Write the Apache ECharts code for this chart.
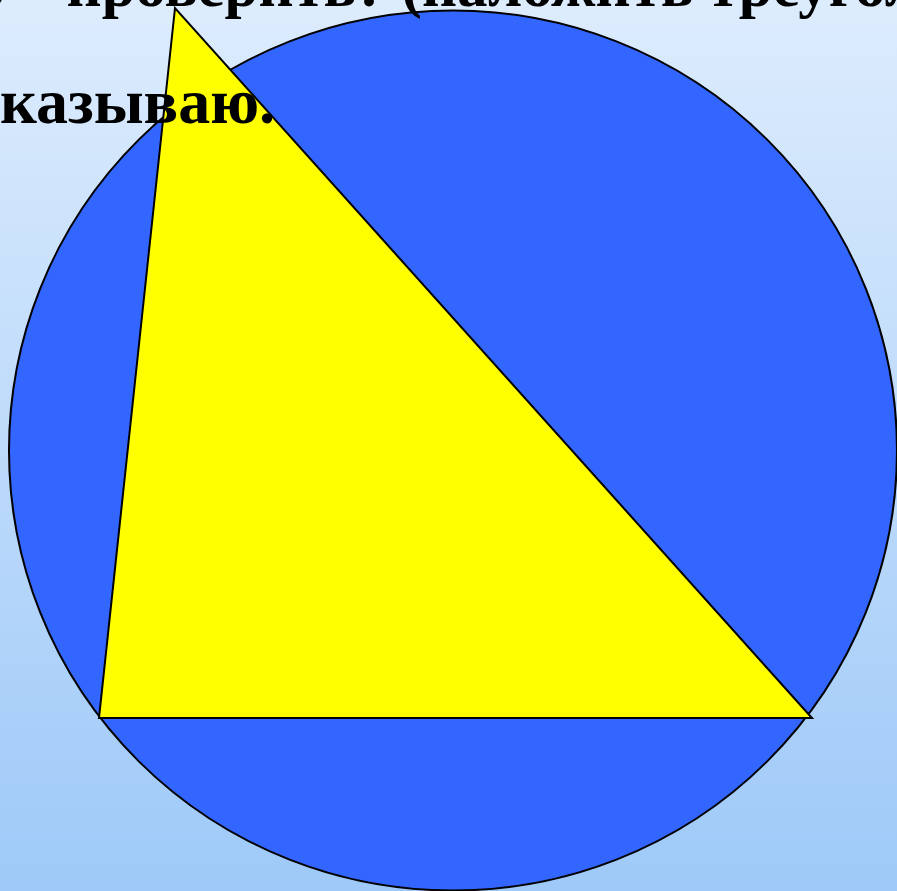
<!DOCTYPE html>
<html>
<head>
<meta charset="utf-8">
<script src="https://cdn.jsdelivr.net/npm/echarts@6/dist/echarts.min.js"></script>
<style>
html,body{margin:0;padding:0;width:897px;height:891px;overflow:hidden;}
#chart{width:897px;height:891px;}
</style>
</head>
<body>
<div id="chart"></div>
<script>
// circle (ellipse) : center + radii, in picture units
var circleCenter = [453, 450.5];
var circleRadius = [444, 440];
// triangle vertices
var triangleX = [175, 99, 812];
var triangleY = [8, 718, 718];
// slide text lines
var textLines = ['о    проверить? (наложить треугольник', 'казываю.'];

var chart = echarts.init(document.getElementById('chart'));

var options = {
    backgroundColor: {
        type: 'linear', x: 0, y: 0, x2: 0, y2: 1,
        colorStops: [
            {offset: 0, color: '#ddecfd'},
            {offset: 1, color: '#9ec9f8'}
        ]
    },
    animation: false,
    grid: {left: 0, right: 0, top: 0, bottom: 0},
    xAxis: {type: 'value', min: 0, max: 897, show: false},
    yAxis: {type: 'value', min: 0, max: 891, inverse: true, show: false},
    series: [
        {
            type: 'custom',
            coordinateSystem: 'cartesian2d',
            data: [[circleCenter[0], circleCenter[1], circleRadius[0], circleRadius[1]]],
            renderItem: function(params, api){
                var c = api.coord([api.value(0), api.value(1)]);
                var e = api.coord([api.value(0) + api.value(2), api.value(1) + api.value(3)]);
                var rx = Math.abs(e[0] - c[0]);
                var ry = Math.abs(e[1] - c[1]);
                return {
                    type: 'circle',
                    shape: {cx: 0, cy: 0, r: ry},
                    x: c[0], y: c[1],
                    scaleX: rx / ry,
                    style: {fill: '#3366ff', stroke: '#000', lineWidth: 2, strokeNoScale: true}
                };
            },
            z: 1
        },
        {
            type: 'custom',
            coordinateSystem: 'cartesian2d',
            data: triangleX.map(function(x, i){ return [x, triangleY[i]]; }),
            renderItem: function(params, api){
                if (params.dataIndex > 0) return;
                var pts = triangleX.map(function(x, i){ return api.coord([x, triangleY[i]]); });
                return {
                    type: 'polygon',
                    shape: {points: pts},
                    style: {fill: '#ffff00', stroke: '#000', lineWidth: 2, lineJoin: 'miter'}
                };
            },
            z: 2
        }
    ],
    graphic: [
        {
            type: 'text', x: -25, y: -40, z: 10,
            style: {text: textLines[0], font: 'bold 61px "Liberation Serif"', fill: '#000', verticalAlign: 'top'}
        },
        {
            type: 'text', x: 0, y: 74, z: 10,
            style: {text: textLines[1], font: 'bold 64px "Liberation Serif"', fill: '#000', verticalAlign: 'top'}
        }
    ]
};
chart.setOption(options);
</script>
</body>
</html>
